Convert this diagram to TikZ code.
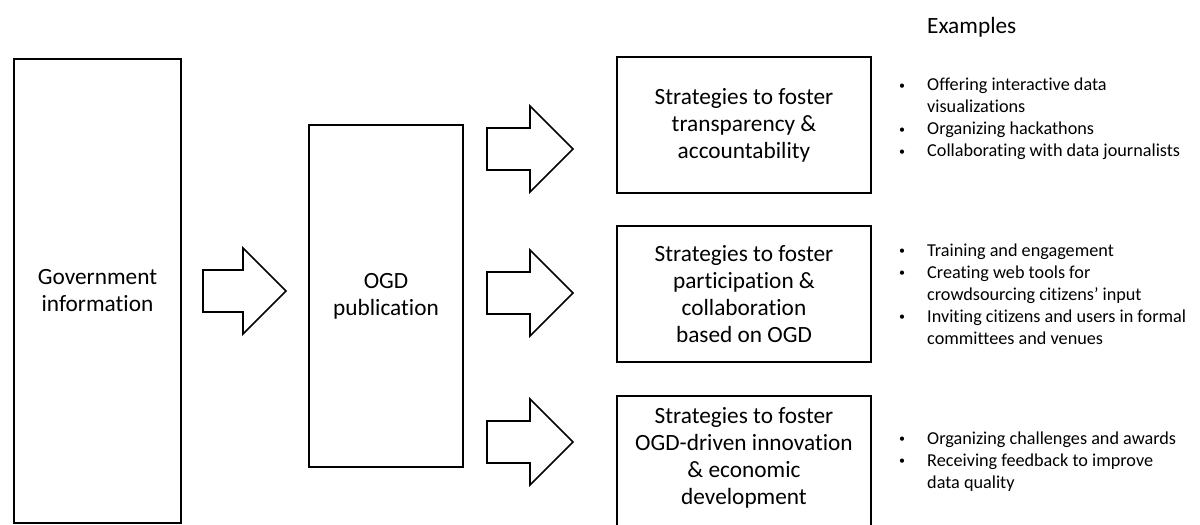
\documentclass[tikz,border=0pt]{standalone}
\usepackage{fontspec}
\setmainfont{Carlito}[Ligatures=NoCommon]
\newcommand\bigtxt{\fontsize{23.3}{27}\selectfont}
\newcommand\smalltxt{\fontsize{18.2}{22}\selectfont}
\newcommand\blt{\raisebox{1.6pt}{\fontsize{12}{12}\selectfont\textbullet}}
\begin{document}
\begin{tikzpicture}[x=1pt,y=-1pt,
box/.style={draw, line width=2pt, align=center, font=\bigtxt, inner sep=0pt},
blockarr/.style={draw, line width=1.6pt, line join=miter},
exlist/.style={anchor=west, inner sep=0pt, font=\smalltxt}]
\useasboundingbox (0,0) rectangle (1200,525);
\node[box, minimum width=167, minimum height=464] (gov) at (97.5,291){Government\\information};
\node[box, minimum width=154, minimum height=342] (ogd) at (386,296){OGD\\publication};
\node[box, minimum width=254, minimum height=136] (s1) at (744,125){Strategies to foster\\transparency \&\\accountability};
\node[box, minimum width=254, minimum height=136] (s2) at (744,294){Strategies to foster\\participation \&\\collaboration\\based on OGD};
\node[box, minimum width=254, minimum height=136, text depth=17pt] (s3) at (744,464){Strategies to foster\\OGD-driven innovation\\\& economic\\development};
\coordinate (a0) at (203,291);
\coordinate (a1) at (487,149);
\coordinate (a2) at (487,293);
\coordinate (a3) at (487,442);
\draw[blockarr] (a0) ++(0,-21) -- ++(40,0) -- ++(0,-22) -- ++(43,43) -- ++(-43,43) -- ++(0,-22) -- ++(-40,0) -- cycle;
\draw[blockarr] (a1) ++(0,-21) -- ++(43,0) -- ++(0,-22) -- ++(43,43) -- ++(-43,43) -- ++(0,-22) -- ++(-43,0) -- cycle;
\draw[blockarr] (a2) ++(0,-21) -- ++(43,0) -- ++(0,-22) -- ++(43,43) -- ++(-43,43) -- ++(0,-22) -- ++(-43,0) -- cycle;
\draw[blockarr] (a3) ++(0,-21) -- ++(43,0) -- ++(0,-22) -- ++(43,43) -- ++(-43,43) -- ++(0,-22) -- ++(-43,0) -- cycle;
\node[anchor=west, inner sep=0pt, font=\bigtxt] (exhead) at (927,27){Examples};
\node[exlist] (ex1) at (899,119.5){\begin{tabular}{@{}p{28pt}@{}l@{}}\blt&Offering interactive data\\&visualizations\\\blt&Organizing hackathons\\\blt&Collaborating with data journalists\end{tabular}};
\node[exlist] (ex2) at (899,296){\begin{tabular}{@{}p{28pt}@{}l@{}}\blt&Training and engagement\\\blt&Creating web tools for\\&crowdsourcing citizens’ input\\\blt&Inviting citizens and users in formal\\&committees and venues\end{tabular}};
\node[exlist] (ex3) at (899,462){\begin{tabular}{@{}p{28pt}@{}l@{}}\blt&Organizing challenges and awards\\\blt&Receiving feedback to improve\\&data quality\end{tabular}};
\end{tikzpicture}
\end{document}
